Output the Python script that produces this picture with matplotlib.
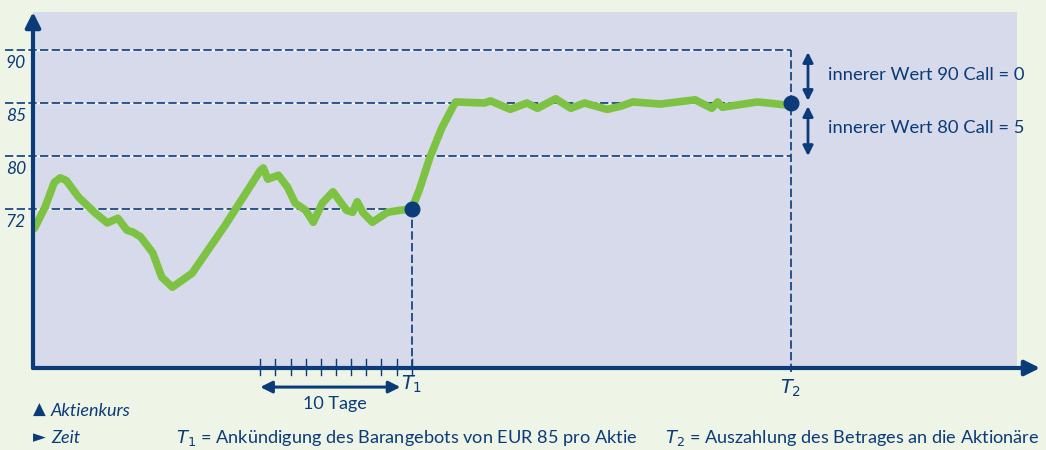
import numpy as np
import matplotlib.pyplot as plt

plt.rcParams['font.family'] = ['Lato', 'DejaVu Sans']

# Kursverlauf (Tage, Aktienkurs in EUR)
tage = [0.1, 0.8, 1.4, 1.8, 2.2, 3.0, 4.1, 4.9, 5.6, 6.2, 6.6, 7.1, 7.9, 8.5, 9.2, 10.5, 12.7,
        15.0, 15.2, 15.5, 16.2, 16.8, 17.3, 18.0, 18.5, 19.1, 19.8, 20.7, 21.1, 21.4, 21.8,
        22.4, 23.4, 24.2, 25.0, 25.5, 26.2, 27.0, 27.7, 27.9, 29.8, 30.2, 31.5, 32.6,
        33.3, 34.5, 35.5, 36.4, 37.9, 38.8, 39.6, 41.4, 43.7, 44.8, 45.2, 45.5, 47.8,
        48.5, 49.8, 50.0]
kurs = [69.1, 72.3, 76.0, 76.7, 76.3, 73.8, 71.4, 69.9, 70.6, 68.8, 68.5, 67.8, 65.4, 61.7, 60.2,
        62.3, 69.6, 77.8, 78.2, 76.5, 77.1, 75.3, 72.9, 71.8, 70.0, 72.9, 74.6, 71.8, 71.5,
        73.1, 71.4, 70.0, 71.5, 71.8, 72.0, 74.9, 79.8, 82.7, 84.6, 85.1, 85.0, 85.2,
        84.4, 85.0, 84.5, 85.4, 84.5, 85.0, 84.4, 84.7, 85.1, 84.9, 85.3, 84.5, 85.1,
        84.6, 85.1, 85.0, 84.8, 85.0]

niveaus = [72, 80, 85, 90]
niveau_labels = ['72', '80', '85', '90']
t1, t2 = 25, 50
tage_ticks = list(range(15, 26))

# Kurse auf die Hoehe im Bild abbilden (Stufen nicht linear)
kp = [48, 72, 80, 85, 90, 95]
hp = [0, 3, 4, 5, 6, 7]
def hoehe(k):
    return np.interp(k, kp, hp)

blau = '#0b3b78'
gruen = '#7dc242'
lila = '#d6daea'
hinter = '#eef4e6'

fig = plt.figure(figsize=(10.46, 4.5), dpi=100, facecolor=hinter)
ax = fig.add_axes([33/1046, 82/450, 984/1046, 356/450])
ax.set_facecolor(lila)
ax.set_xlim(0, 984/15.15)
ax.set_ylim(0, 356/53)
for s in ax.spines.values():
    s.set_visible(False)
ax.set_xticks([])
ax.set_yticks([])

# gestrichelte Hilfslinien
x_links = (5 - 33) / 15.15
for n, lab in zip(niveaus, niveau_labels):
    ende = t1 if n == 72 else t2
    y = hoehe(n)
    ax.plot([x_links, ende], [y, y], color='white', lw=1.0, clip_on=False, zorder=2)
    ax.plot([x_links, ende], [y, y], color=blau, lw=1.2, dashes=(5, 2), clip_on=False, zorder=2)
    ax.text(x_links + 0.05, y - 0.25, lab, color=blau, fontsize=12.5, style='italic',
            ha='left', va='center', clip_on=False)

ax.plot([t1, t1], [0, hoehe(72)], color=blau, lw=1.2, dashes=(5, 2), zorder=2)
ax.plot([t2, t2], [-0.08, hoehe(90)], color=blau, lw=1.2, dashes=(5, 2), zorder=2, clip_on=False)

# Kurslinie
ax.plot(tage, hoehe(np.array(kurs)), color=gruen, lw=5.5, solid_joinstyle='round',
        solid_capstyle='round', zorder=4)
ax.plot([t1, t2], [hoehe(72), hoehe(85)], 'o', color=blau, ms=10.5, zorder=5)

# Achsen mit Pfeilen
ax.annotate('', xy=(1007/15.15, 0), xytext=(0, 0), annotation_clip=False,
            arrowprops=dict(arrowstyle='-|>,head_length=0.9,head_width=0.45', lw=3,
                            color=blau, shrinkA=0, shrinkB=0), zorder=6)
ax.annotate('', xy=(0, 356/53), xytext=(0, 0), annotation_clip=False,
            arrowprops=dict(arrowstyle='-|>,head_length=0.9,head_width=0.45', lw=3,
                            color=blau, shrinkA=0, shrinkB=0), zorder=6)

# 10 Tage
for d in tage_ticks:
    ax.plot([d, d], [0.17, -0.14], color=blau, lw=1, clip_on=False, zorder=6)
ax.annotate('', xy=(15, -0.36), xytext=(24.25, -0.36), annotation_clip=False,
            arrowprops=dict(arrowstyle='<|-|>,head_length=0.7,head_width=0.35', lw=2.2,
                            color=blau, shrinkA=0, shrinkB=0))
ax.text(19.9, -0.68, '10 Tage', color=blau, fontsize=13, ha='center', va='center')
ax.text(t1, -0.3, '$T_1$', color=blau, fontsize=14, ha='center', va='center')
ax.text(t2, -0.38, '$T_2$', color=blau, fontsize=14, ha='center', va='center')

# innere Werte
xa = (808 - 33) / 15.15
for y0, y1 in [(hoehe(85) + 0.04, hoehe(90) - 0.04), (hoehe(80), hoehe(85) - 0.06)]:
    ax.annotate('', xy=(xa, y1), xytext=(xa, y0), annotation_clip=False,
                arrowprops=dict(arrowstyle='<|-|>,head_length=0.6,head_width=0.3', lw=2,
                                color=blau, shrinkA=0, shrinkB=0))
xt = (828 - 33) / 15.15
ax.text(xt, 5.53, 'innerer Wert 90 Call = 0', color=blau, fontsize=13.2, va='center')
ax.text(xt, 4.53, 'innerer Wert 80 Call = 5', color=blau, fontsize=13.2, va='center')

# Legende unten
fig.text(33/1046, 1 - 410/450, '\u25b2', color=blau, fontsize=12, va='center', family=['DejaVu Sans'])
fig.text(33/1046, 1 - 437/450, '\u25ba', color=blau, fontsize=12, va='center', family=['DejaVu Sans'])
fig.text(51/1046, 1 - 411/450, 'Aktienkurs', color=blau, fontsize=13, style='italic', va='center')
fig.text(51/1046, 1 - 438/450, 'Zeit', color=blau, fontsize=13, style='italic', va='center')
fig.text(176/1046, 1 - 438/450, '$T_1$ = Ankündigung des Barangebots von EUR 85 pro Aktie',
         color=blau, fontsize=13.1, va='center')
fig.text(665/1046, 1 - 438/450, '$T_2$ = Auszahlung des Betrages an die Aktionäre',
         color=blau, fontsize=13.1, va='center')

fig.savefig('out.png', dpi=100, facecolor=hinter)
